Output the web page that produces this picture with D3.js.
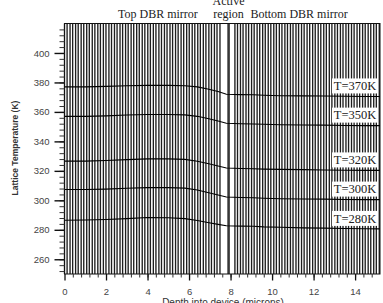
<!DOCTYPE html>
<html>
<head>
<meta charset="utf-8">
<script src="https://cdn.jsdelivr.net/npm/d3@7"></script>
<style>
  html, body { margin: 0; padding: 0; background: #fff; }
  svg { display: block; }
</style>
</head>
<body>
<svg id="chart" width="383" height="303"></svg>
<script>
// Lattice temperature vs depth in a VCSEL, for several heat-sink temperatures

const DEPTH = [0, 1, 2, 3, 4, 5, 5.8, 6.4, 6.9, 7.4, 7.8, 8.5, 9.1, 9.6, 10.4, 11.5, 12.5, 13.5, 14.5, 15.2];

const T370 = [377, 377, 377.3, 377.8, 378, 378, 377.8, 377, 375.6, 373.8, 372, 371.7, 371.6, 371.3, 371, 370.9, 370.8, 370.6, 370.5, 370.5];
const T350 = [357, 357, 357.3, 357.9, 358.2, 358.2, 358, 357, 355.5, 353.8, 352.3, 352, 351.8, 351.6, 351.3, 351.1, 351, 350.8, 350.7, 350.7];
const T320 = [326.6, 326.6, 327, 327.6, 328.1, 328.1, 327.8, 326.5, 325, 323.3, 321.9, 321.6, 321.4, 321.2, 321, 320.8, 320.6, 320.4, 320.3, 320.3];
const T300 = [307.3, 307.3, 307.6, 308.2, 308.6, 308.6, 308.3, 307, 305.3, 303.6, 302.3, 301.9, 301.7, 301.4, 301.1, 300.9, 300.8, 300.6, 300.5, 300.5];
const T280 = [286.5, 286.6, 287, 287.6, 288.3, 288.2, 287.6, 286.3, 285, 283.7, 282.7, 282.5, 282.4, 282, 281.7, 281.3, 281.1, 280.9, 280.7, 280.6];

const SERIES = [T370, T350, T320, T300, T280];
const SERIES_LABELS = ["T=370K", "T=350K", "T=320K", "T=300K", "T=280K"];

// layer structure (microns): DBR pair thicknesses and pair counts
const TOP_DBR_START = 0;
const TOP_DBR_PAIRS = 28;
const BOTTOM_DBR_START = 8.21;
const BOTTOM_DBR_PAIRS = 26;
const DBR_PAIR = [0.125, 0.1425];
const ACTIVE_LINES = [7.88, 7.93];

const REGION_TITLES = [
  { text: "Top DBR mirror", x: 4.5 },
  { text: "region", x: 7.9 },
  { text: "Bottom DBR mirror", x: 11.3 },
];

const X_TICKS = [0, 2, 4, 6, 8, 10, 12, 14];
const Y_TICKS = [260, 280, 300, 320, 340, 360, 380, 400];

// ── Scales ────────────────────────────────────────────────────
const svg = d3.select("#chart");
const xs = d3.scaleLinear().domain([0, 15.2]).range([64.5, 380]);
const ys = d3.scaleLinear().domain([250, 420]).range([274, 23.5]);

// ── Layer boundaries ──────────────────────────────────────────
function dbrBoundaries(start, pairs) {
  const out = [start];
  let pos = start;
  for (let i = 0; i < pairs; i++) {
    DBR_PAIR.forEach(t => { pos += t; out.push(pos); });
  }
  return out;
}
const boundaries = [
  ...dbrBoundaries(TOP_DBR_START, TOP_DBR_PAIRS),
  ...ACTIVE_LINES,
  ...dbrBoundaries(BOTTOM_DBR_START, BOTTOM_DBR_PAIRS),
].filter(d => d <= 15.2);

svg.append("g").selectAll("line").data(boundaries).join("line")
  .attr("x1", d => xs(d)).attr("x2", d => xs(d))
  .attr("y1", ys(420)).attr("y2", ys(250))
  .attr("stroke", "#1e1e1e")
  .attr("stroke-width", 1.35);

// ── Temperature curves ────────────────────────────────────────
const line = d3.line().x((d, i) => xs(DEPTH[i])).y(d => ys(d));
svg.append("g").selectAll("path").data(SERIES).join("path")
  .attr("d", line)
  .attr("fill", "none")
  .attr("stroke", "#000")
  .attr("stroke-width", 1.1);

// ── Curve labels ──────────────────────────────────────────────
const lab = svg.append("g").selectAll("g").data(SERIES).join("g")
  .attr("transform", d => `translate(355,${ys(d[d.length - 1]) - 10.5})`);
lab.append("rect")
  .attr("x", -23).attr("y", -7.5).attr("width", 46).attr("height", 15)
  .attr("fill", "#fff");
lab.append("text")
  .attr("text-anchor", "middle").attr("dy", "0.35em")
  .attr("font-family", "Liberation Serif, Times New Roman, serif")
  .attr("font-size", "12.5px")
  .attr("fill", "#222")
  .text((d, i) => SERIES_LABELS[i]);

// ── Frame ─────────────────────────────────────────────────────
svg.append("rect")
  .attr("x", xs(0)).attr("y", ys(420))
  .attr("width", xs(15.2) - xs(0)).attr("height", ys(250) - ys(420))
  .attr("fill", "none").attr("stroke", "#111").attr("stroke-width", 1);

// ── Axes ──────────────────────────────────────────────────────
const axisFont = g => g.selectAll("text")
  .attr("font-family", "Liberation Sans, Arial, sans-serif")
  .attr("font-size", "9.5px").attr("fill", "#444");

svg.append("g").attr("transform", `translate(${xs(0)},0)`)
  .call(d3.axisLeft(ys).tickValues(d3.range(252, 420, 4)).tickSize(5).tickFormat(""))
  .call(g => g.select(".domain").remove())
  .call(g => g.selectAll("line").attr("stroke", "#333"));
svg.append("g").attr("transform", `translate(${xs(0)},0)`)
  .call(d3.axisLeft(ys).tickValues(Y_TICKS).tickSize(10).tickPadding(5))
  .call(g => g.select(".domain").remove())
  .call(g => g.selectAll("line").attr("stroke", "#111").attr("stroke-width", 1.4))
  .call(axisFont);

svg.append("g").attr("transform", `translate(0,${ys(250)})`)
  .call(d3.axisBottom(xs).tickValues(d3.range(0.4, 15.2, 0.4)).tickSize(3.5).tickFormat(""))
  .call(g => g.select(".domain").remove())
  .call(g => g.selectAll("line").attr("stroke", "#333"));
svg.append("g").attr("transform", `translate(0,${ys(250)})`)
  .call(d3.axisBottom(xs).tickValues(X_TICKS).tickSize(6.5).tickPadding(8))
  .call(g => g.select(".domain").remove())
  .call(g => g.selectAll("line").attr("stroke", "#111").attr("stroke-width", 1.3))
  .call(axisFont);

// ── Axis titles ───────────────────────────────────────────────
svg.append("text")
  .attr("x", 223).attr("y", 306)
  .attr("text-anchor", "middle")
  .attr("font-family", "Liberation Sans, Arial, sans-serif")
  .attr("font-size", "10px").attr("fill", "#333")
  .text("Depth into device (microns)");

svg.append("text")
  .attr("transform", "translate(18,148) rotate(-90)")
  .attr("text-anchor", "middle")
  .attr("font-family", "Liberation Sans, Arial, sans-serif")
  .attr("font-size", "8.5px").attr("font-weight", "bold").attr("fill", "#333")
  .text("Lattice Temperature (K)");

// ── Region titles ─────────────────────────────────────────────
const titleFont = sel => sel
  .attr("text-anchor", "middle")
  .attr("font-family", "Liberation Serif, Times New Roman, serif")
  .attr("font-size", "12px").attr("fill", "#222");

svg.append("g").selectAll("text").data(REGION_TITLES).join("text")
  .attr("x", d => xs(d.x)).attr("y", 18)
  .call(titleFont)
  .text(d => d.text);
svg.append("text")
  .attr("x", xs(7.9)).attr("y", 5)
  .call(titleFont)
  .text("Active");
</script>
</body>
</html>
